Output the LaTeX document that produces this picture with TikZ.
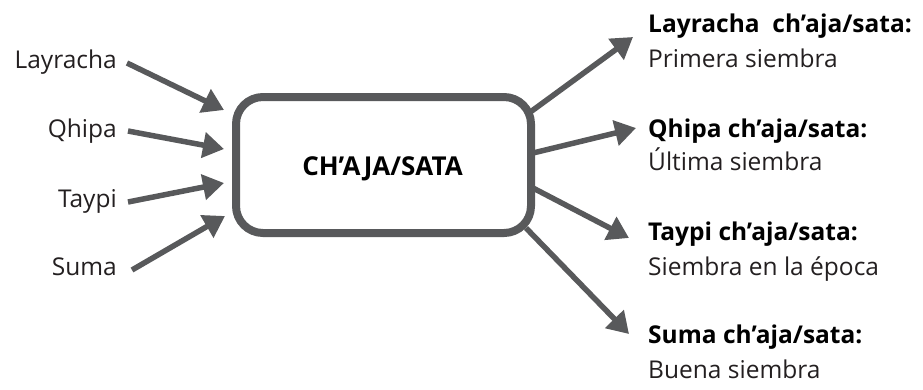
\documentclass[tikz,border=0pt]{standalone}
\usepackage{fontspec}
\setmainfont{Open Sans}
\usetikzlibrary{arrows.meta}
\definecolor{gr}{HTML}{58595B}
\definecolor{tx}{HTML}{231F20}
\begin{document}
\begin{tikzpicture}[x=1pt,y=-1pt,
  lbl/.style={inner sep=0pt,font=\fontsize{24.5}{28}\selectfont,text=tx},
  blbl/.style={inner sep=0pt,font=\fontsize{24.5}{28}\selectfont\bfseries,text=black},
  arr/.style={draw=gr,line width=5.5pt,-{Triangle[length=21pt,width=25pt]}}]
\useasboundingbox (0,0) rectangle (923,389);
\node[draw=gr,line width=8pt,rounded corners=27pt,minimum width=295pt,minimum height=136pt,inner sep=0pt] (box) at (383.5,165) {};
\node[inner sep=0pt,anchor=base,font=\fontsize{26}{30}\selectfont\bfseries] (t) at (382.5,175) {CH’AJA/SATA};
% left
\node[lbl,anchor=base east] (l1) at (117,68) {Layracha};
\node[lbl,anchor=base east] (l2) at (117,137) {Qhipa};
\node[lbl,anchor=base east] (l3) at (117,207) {Taypi};
\node[lbl,anchor=base east] (l4) at (117,275) {Suma};
\coordinate (a1s) at (127,63); \coordinate (a1e) at (224,110);
\coordinate (a2s) at (128,131); \coordinate (a2e) at (224,149);
\coordinate (a3s) at (128,202); \coordinate (a3e) at (224,183);
\coordinate (a4s) at (132,270); \coordinate (a4e) at (225,216);
\draw[arr] (a1s) -- (a1e);
\draw[arr] (a2s) -- (a2e);
\draw[arr] (a3s) -- (a3e);
\draw[arr] (a4s) -- (a4e);
% right
\coordinate (b1s) at (529,113); \coordinate (b1e) at (633,37);
\coordinate (b2s) at (533,153); \coordinate (b2e) at (636,128);
\coordinate (b3s) at (533,188); \coordinate (b3e) at (629,238);
\coordinate (b4s) at (526,228); \coordinate (b4e) at (629,334);
\draw[arr] (b1s) -- (b1e);
\draw[arr] (b2s) -- (b2e);
\draw[arr] (b3s) -- (b3e);
\draw[arr] (b4s) -- (b4e);
\node[blbl,anchor=base west] (r1) at (648,32) {Layracha\ \ ch’aja/sata:};
\node[lbl,anchor=base west] (r1b) at (648,67) {Primera siembra};
\node[blbl,anchor=base west] (r2) at (648,137) {Qhipa ch’aja/sata:};
\node[lbl,anchor=base west] (r2b) at (648,170) {Última siembra};
\node[blbl,anchor=base west] (r3) at (648,240) {Taypi ch’aja/sata:};
\node[lbl,anchor=base west] (r3b) at (648,275) {Siembra en la época};
\node[blbl,anchor=base west] (r4) at (648,343) {Suma ch’aja/sata:};
\node[lbl,anchor=base west] (r4b) at (648,378) {Buena siembra};
\end{tikzpicture}
\end{document}
